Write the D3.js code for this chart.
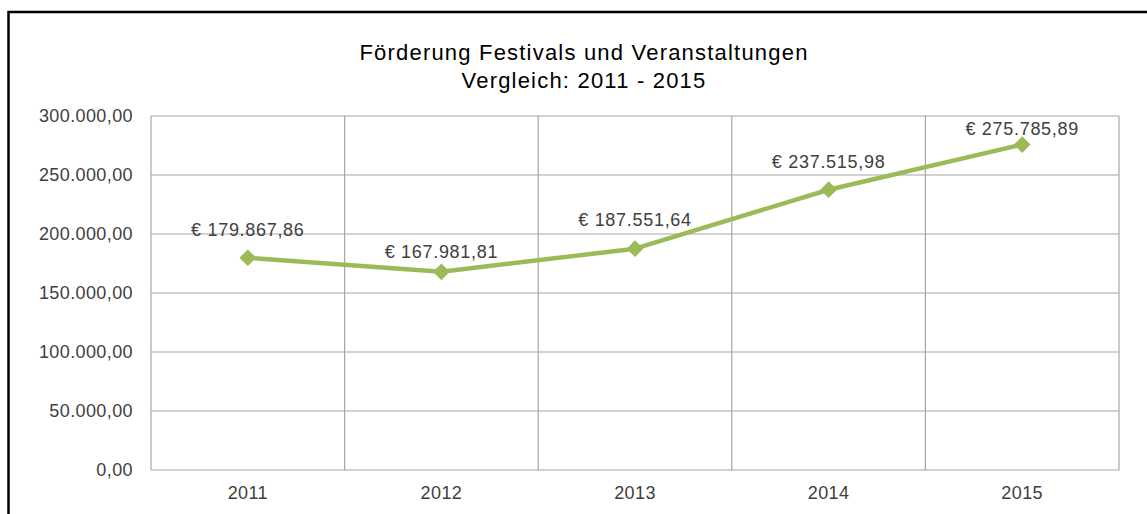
<!DOCTYPE html>
<html><head><meta charset="utf-8">
<script src="https://cdn.jsdelivr.net/npm/d3@7"></script>
<style>body{margin:0;background:#fff;}svg{display:block;font-family:"Liberation Sans",Arial,sans-serif;}</style>
</head><body>
<svg id="c" width="1147" height="514"></svg>
<script>
const years = ["2011","2012","2013","2014","2015"];
const values = [179867.86, 167981.81, 187551.64, 237515.98, 275785.89];
const yTicks = [0, 50000, 100000, 150000, 200000, 250000, 300000];
const titleLines = ["Förderung Festivals und Veranstaltungen", "Vergleich: 2011 - 2015"];

// layout (label vertical offsets in px, as placed in the original)
const labelOffset = [-22, -14, -23, -22, -10];

const svg = d3.select("#c");
const L = 151, R = 1119, T = 116, B = 470;
const x = d3.scaleBand().domain(years).range([L, R]);
const y = d3.scaleLinear().domain([0, 300000]).range([B, T]);

const de = d3.formatLocale({decimal: ",", thousands: ".", grouping: [3], currency: ["€ ", ""]});
const fmtAxis = de.format(",.2f");
const fmtLab = v => "€ " + de.format(",.2f")(v);

// outer border
svg.append("path").attr("d", "M8.5,514 V12 H1147").attr("fill", "none").attr("stroke", "#000").attr("stroke-width", 2.5);

// title
svg.append("text").attr("x", 584).attr("y", 60).attr("text-anchor", "middle")
  .attr("font-size", 22).attr("letter-spacing", 1.2).attr("fill", "#000").text(titleLines[0]);
svg.append("text").attr("x", 584).attr("y", 88).attr("text-anchor", "middle")
  .attr("font-size", 22).attr("letter-spacing", 1.2).attr("fill", "#000").text(titleLines[1]);

// horizontal grid
svg.append("g").selectAll("line").data(yTicks).join("line")
  .attr("x1", L).attr("x2", R).attr("y1", d => y(d)).attr("y2", d => y(d))
  .attr("stroke", "#a6a6a6").attr("stroke-width", 1.2);
// vertical grid at category boundaries
const bounds = years.map(d => x(d)).concat([R]);
svg.append("g").selectAll("line").data(bounds).join("line")
  .attr("x1", d => d).attr("x2", d => d).attr("y1", T).attr("y2", B)
  .attr("stroke", "#a6a6a6").attr("stroke-width", 1.2);

// y axis labels
const ya = svg.append("g").attr("transform", `translate(${L},0)`)
  .call(d3.axisLeft(y).tickValues(yTicks).tickFormat(fmtAxis).tickSize(0).tickPadding(18));
ya.select(".domain").remove();
ya.selectAll("text").attr("font-size", 18).attr("letter-spacing", 0.4).attr("fill", "#404040").attr("font-family", "Liberation Sans, Arial, sans-serif");

// x axis labels
const xa = svg.append("g").attr("transform", `translate(0,${B})`)
  .call(d3.axisBottom(x).tickSize(0).tickPadding(16));
xa.select(".domain").remove();
xa.selectAll("text").attr("font-size", 18).attr("letter-spacing", 0.4).attr("fill", "#404040").attr("font-family", "Liberation Sans, Arial, sans-serif");

// line
const cx = d => x(d) + x.bandwidth() / 2;
const pts = years.map((d, i) => [cx(d), y(values[i])]);
svg.append("path").attr("d", d3.line()(pts)).attr("fill", "none")
  .attr("stroke", "#9bbb59").attr("stroke-width", 4.5).attr("stroke-linejoin", "round");

// markers
svg.append("g").selectAll("path").data(pts).join("path")
  .attr("d", d3.symbol(d3.symbolSquare, 140)())
  .attr("transform", d => `translate(${d[0]},${d[1]}) rotate(45)`)
  .attr("fill", "#9bbb59");

// data labels
svg.append("g").selectAll("text").data(years).join("text")
  .attr("x", d => cx(d)).attr("y", (d, i) => y(values[i]) + labelOffset[i])
  .attr("text-anchor", "middle").attr("font-size", 18).attr("letter-spacing", 0.7).attr("fill", "#404040")
  .text((d, i) => fmtLab(values[i]));
</script>
</body></html>
